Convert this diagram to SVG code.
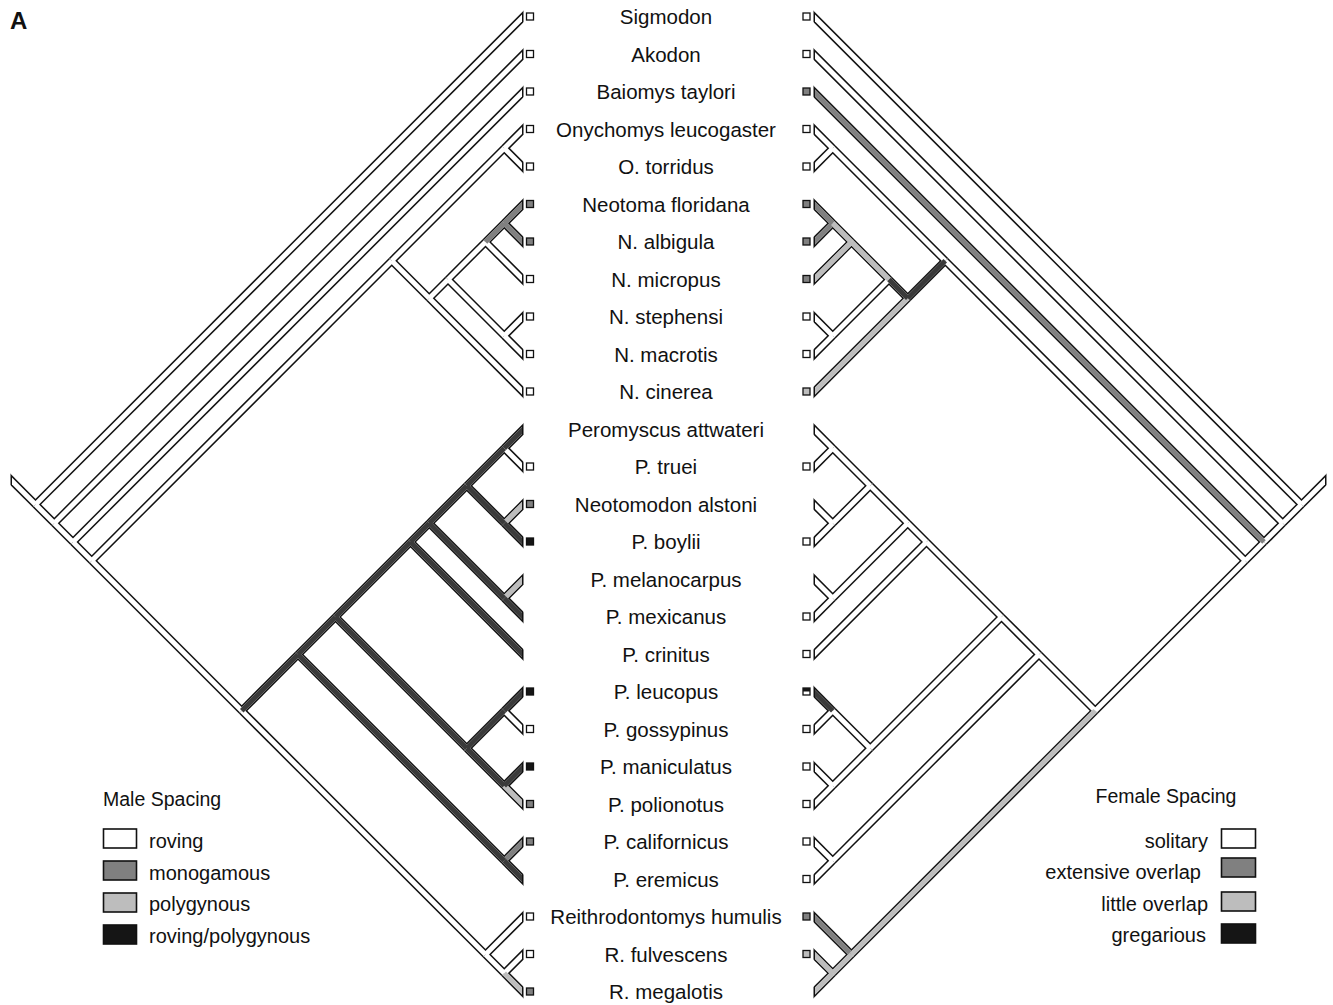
<svg xmlns="http://www.w3.org/2000/svg" xmlns:xlink="http://www.w3.org/1999/xlink" width="1333" height="1005" viewBox="0 0 1333 1005">
<style>
.lbl{font-family:"Liberation Sans",Arial,sans-serif;font-size:20.5px;text-anchor:middle;fill:#111}
.leg{font-family:"Liberation Sans",Arial,sans-serif;font-size:20px;fill:#111}
.hd{font-family:"Liberation Sans",Arial,sans-serif;font-size:19.5px;fill:#111}
.bx{stroke:#111;stroke-width:1.3}
.lb{stroke:#111;stroke-width:1.6}
.w{fill:#fff}.gm{fill:#808080}.gp{fill:#bdbdbd}.gk{fill:#151515}
.sm{stroke:#808080}.sp{stroke:#bdbdbd}.sk{stroke:#3a3a3a}
</style>
<defs>
<clipPath id="co"><rect x="10.5" y="0" width="513" height="1005"/></clipPath>
<clipPath id="ci"><rect x="12" y="0" width="510" height="1005"/></clipPath>
<g id="E">
<line x1="35.5" y1="504.5" x2="5" y2="474"/>
<line x1="35.5" y1="504.5" x2="531" y2="9"/>
<line x1="35.5" y1="504.5" x2="54.25" y2="523.25"/>
<line x1="54.25" y1="523.25" x2="531" y2="46.5"/>
<line x1="54.25" y1="523.25" x2="73" y2="542"/>
<line x1="73" y1="542" x2="531" y2="84"/>
<line x1="73" y1="542" x2="91.75" y2="560.75"/>
<line x1="91.75" y1="560.75" x2="391.75" y2="260.75"/>
<line x1="91.75" y1="560.75" x2="241.75" y2="710.75"/>
<line x1="391.75" y1="260.75" x2="504.25" y2="148.25"/>
<line x1="504.25" y1="148.25" x2="531" y2="121.5"/>
<line x1="504.25" y1="148.25" x2="531" y2="175"/>
<line x1="391.75" y1="260.75" x2="429.25" y2="298.25"/>
<line x1="429.25" y1="298.25" x2="448" y2="279.5"/>
<line x1="429.25" y1="298.25" x2="531" y2="400"/>
<line x1="448" y1="279.5" x2="485.5" y2="242"/>
<line x1="448" y1="279.5" x2="504.25" y2="335.75"/>
<line x1="485.5" y1="242" x2="504.25" y2="223.25"/>
<line x1="485.5" y1="242" x2="531" y2="287.5"/>
<line x1="504.25" y1="223.25" x2="531" y2="196.5"/>
<line x1="504.25" y1="223.25" x2="531" y2="250"/>
<line x1="504.25" y1="335.75" x2="531" y2="309"/>
<line x1="504.25" y1="335.75" x2="531" y2="362.5"/>
<line x1="241.75" y1="710.75" x2="298" y2="654.5"/>
<line x1="241.75" y1="710.75" x2="485.5" y2="954.5"/>
<line x1="298" y1="654.5" x2="335.5" y2="617"/>
<line x1="298" y1="654.5" x2="504.25" y2="860.75"/>
<line x1="335.5" y1="617" x2="410.5" y2="542"/>
<line x1="335.5" y1="617" x2="466.75" y2="748.25"/>
<line x1="410.5" y1="542" x2="429.25" y2="523.25"/>
<line x1="410.5" y1="542" x2="531" y2="662.5"/>
<line x1="429.25" y1="523.25" x2="466.75" y2="485.75"/>
<line x1="429.25" y1="523.25" x2="504.25" y2="598.25"/>
<line x1="466.75" y1="485.75" x2="504.25" y2="448.25"/>
<line x1="466.75" y1="485.75" x2="504.25" y2="523.25"/>
<line x1="504.25" y1="448.25" x2="531" y2="421.5"/>
<line x1="504.25" y1="448.25" x2="531" y2="475"/>
<line x1="504.25" y1="523.25" x2="531" y2="496.5"/>
<line x1="504.25" y1="523.25" x2="531" y2="550"/>
<line x1="504.25" y1="598.25" x2="531" y2="571.5"/>
<line x1="504.25" y1="598.25" x2="531" y2="625"/>
<line x1="466.75" y1="748.25" x2="504.25" y2="710.75"/>
<line x1="466.75" y1="748.25" x2="504.25" y2="785.75"/>
<line x1="504.25" y1="710.75" x2="531" y2="684"/>
<line x1="504.25" y1="710.75" x2="531" y2="737.5"/>
<line x1="504.25" y1="785.75" x2="531" y2="759"/>
<line x1="504.25" y1="785.75" x2="531" y2="812.5"/>
<line x1="504.25" y1="860.75" x2="531" y2="834"/>
<line x1="504.25" y1="860.75" x2="531" y2="887.5"/>
<line x1="485.5" y1="954.5" x2="531" y2="909"/>
<line x1="485.5" y1="954.5" x2="504.25" y2="973.25"/>
<line x1="504.25" y1="973.25" x2="531" y2="946.5"/>
<line x1="504.25" y1="973.25" x2="531" y2="1000"/>
</g>
</defs>
<rect width="1333" height="1005" fill="#fff"/>
<text x="10" y="29" font-family="Liberation Sans,Arial,sans-serif" font-size="24" font-weight="bold" fill="#111">A</text>
<g id="connectors" fill="none">
 <g id="male-tree">
  <g clip-path="url(#co)"><use xlink:href="#E" stroke="#111" stroke-width="8"/></g>
  <g clip-path="url(#ci)" stroke-width="5">
   <use xlink:href="#E" stroke="#fff"/>
   <line class="sm" x1="485.5" y1="242" x2="504.25" y2="223.25"/>
   <line class="sm" x1="504.25" y1="223.25" x2="531" y2="196.5"/>
   <line class="sm" x1="504.25" y1="223.25" x2="531" y2="250"/>
   <line class="sm" x1="504.25" y1="860.75" x2="531" y2="834"/>
   <line class="sp" x1="504.25" y1="523.25" x2="531" y2="496.5"/>
   <line class="sp" x1="504.25" y1="598.25" x2="531" y2="571.5"/>
   <line class="sp" x1="504.25" y1="785.75" x2="531" y2="812.5"/>
   <line class="sp" x1="504.25" y1="973.25" x2="531" y2="1000"/>
   <line class="sk" x1="241.75" y1="710.75" x2="298" y2="654.5"/>
   <line class="sk" x1="298" y1="654.5" x2="335.5" y2="617"/>
   <line class="sk" x1="335.5" y1="617" x2="410.5" y2="542"/>
   <line class="sk" x1="410.5" y1="542" x2="429.25" y2="523.25"/>
   <line class="sk" x1="429.25" y1="523.25" x2="466.75" y2="485.75"/>
   <line class="sk" x1="466.75" y1="485.75" x2="504.25" y2="448.25"/>
   <line class="sk" x1="504.25" y1="448.25" x2="531" y2="421.5"/>
   <line class="sk" x1="466.75" y1="485.75" x2="504.25" y2="523.25"/>
   <line class="sk" x1="504.25" y1="523.25" x2="531" y2="550"/>
   <line class="sk" x1="429.25" y1="523.25" x2="504.25" y2="598.25"/>
   <line class="sk" x1="504.25" y1="598.25" x2="531" y2="625"/>
   <line class="sk" x1="410.5" y1="542" x2="531" y2="662.5"/>
   <line class="sk" x1="335.5" y1="617" x2="466.75" y2="748.25"/>
   <line class="sk" x1="466.75" y1="748.25" x2="504.25" y2="710.75"/>
   <line class="sk" x1="504.25" y1="710.75" x2="531" y2="684"/>
   <line class="sk" x1="466.75" y1="748.25" x2="504.25" y2="785.75"/>
   <line class="sk" x1="504.25" y1="785.75" x2="531" y2="759"/>
   <line class="sk" x1="298" y1="654.5" x2="504.25" y2="860.75"/>
   <line class="sk" x1="504.25" y1="860.75" x2="531" y2="887.5"/>
  </g>
 </g>
 <g id="female-tree" transform="matrix(-1 0 0 1 1337 0)">
  <g clip-path="url(#co)"><use xlink:href="#E" stroke="#111" stroke-width="8"/></g>
  <g clip-path="url(#ci)" stroke-width="5">
   <use xlink:href="#E" stroke="#fff"/>
   <line class="sm" x1="73" y1="542" x2="531" y2="84"/>
   <line class="sm" x1="504.25" y1="223.25" x2="531" y2="196.5"/>
   <line class="sm" x1="504.25" y1="223.25" x2="531" y2="250"/>
   <line class="sm" x1="485.5" y1="954.5" x2="531" y2="909"/>
   <line class="sp" x1="485.5" y1="242" x2="504.25" y2="223.25"/>
   <line class="sp" x1="485.5" y1="242" x2="531" y2="287.5"/>
   <line class="sp" x1="448" y1="279.5" x2="485.5" y2="242"/>
   <line class="sp" x1="429.25" y1="298.25" x2="531" y2="400"/>
   <line class="sp" x1="241.75" y1="710.75" x2="485.5" y2="954.5"/>
   <line class="sp" x1="485.5" y1="954.5" x2="504.25" y2="973.25"/>
   <line class="sp" x1="504.25" y1="973.25" x2="531" y2="1000"/>
   <line class="sp" x1="504.25" y1="973.25" x2="531" y2="946.5"/>
   <line class="sk" x1="429.25" y1="298.25" x2="448" y2="279.5"/>
   <line class="sk" x1="391.75" y1="260.75" x2="429.25" y2="298.25"/>
   <line class="sk" x1="504.25" y1="710.75" x2="531" y2="684"/>
  </g>
 </g>
</g>
<g id="taxa">
 <g id="t0"><rect class="bx w" x="526.5" y="13" width="7" height="7"/><text class="lbl" x="666" y="24">Sigmodon</text><rect class="bx w" x="803" y="13" width="7" height="7"/></g>
 <g id="t1"><rect class="bx w" x="526.5" y="50.5" width="7" height="7"/><text class="lbl" x="666" y="61.5">Akodon</text><rect class="bx w" x="803" y="50.5" width="7" height="7"/></g>
 <g id="t2"><rect class="bx w" x="526.5" y="88" width="7" height="7"/><text class="lbl" x="666" y="99">Baiomys taylori</text><rect class="bx gm" x="803" y="88" width="7" height="7"/></g>
 <g id="t3"><rect class="bx w" x="526.5" y="125.5" width="7" height="7"/><text class="lbl" x="666" y="136.5">Onychomys leucogaster</text><rect class="bx w" x="803" y="125.5" width="7" height="7"/></g>
 <g id="t4"><rect class="bx w" x="526.5" y="163" width="7" height="7"/><text class="lbl" x="666" y="174">O. torridus</text><rect class="bx w" x="803" y="163" width="7" height="7"/></g>
 <g id="t5"><rect class="bx gm" x="526.5" y="200.5" width="7" height="7"/><text class="lbl" x="666" y="211.5">Neotoma floridana</text><rect class="bx gm" x="803" y="200.5" width="7" height="7"/></g>
 <g id="t6"><rect class="bx gm" x="526.5" y="238" width="7" height="7"/><text class="lbl" x="666" y="249">N. albigula</text><rect class="bx gm" x="803" y="238" width="7" height="7"/></g>
 <g id="t7"><rect class="bx w" x="526.5" y="275.5" width="7" height="7"/><text class="lbl" x="666" y="286.5">N. micropus</text><rect class="bx gm" x="803" y="275.5" width="7" height="7"/></g>
 <g id="t8"><rect class="bx w" x="526.5" y="313" width="7" height="7"/><text class="lbl" x="666" y="324">N. stephensi</text><rect class="bx w" x="803" y="313" width="7" height="7"/></g>
 <g id="t9"><rect class="bx w" x="526.5" y="350.5" width="7" height="7"/><text class="lbl" x="666" y="361.5">N. macrotis</text><rect class="bx w" x="803" y="350.5" width="7" height="7"/></g>
 <g id="t10"><rect class="bx w" x="526.5" y="388" width="7" height="7"/><text class="lbl" x="666" y="399">N. cinerea</text><rect class="bx gp" x="803" y="388" width="7" height="7"/></g>
 <g id="t11"><text class="lbl" x="666" y="436.5">Peromyscus attwateri</text></g>
 <g id="t12"><rect class="bx w" x="526.5" y="463" width="7" height="7"/><text class="lbl" x="666" y="474">P. truei</text><rect class="bx w" x="803" y="463" width="7" height="7"/></g>
 <g id="t13"><rect class="bx gm" x="526.5" y="500.5" width="7" height="7"/><text class="lbl" x="666" y="511.5">Neotomodon alstoni</text></g>
 <g id="t14"><rect class="bx gk" x="526.5" y="538" width="7" height="7"/><text class="lbl" x="666" y="549">P. boylii</text><rect class="bx w" x="803" y="538" width="7" height="7"/></g>
 <g id="t15"><text class="lbl" x="666" y="586.5">P. melanocarpus</text></g>
 <g id="t16"><text class="lbl" x="666" y="624">P. mexicanus</text><rect class="bx w" x="803" y="613" width="7" height="7"/></g>
 <g id="t17"><text class="lbl" x="666" y="661.5">P. crinitus</text><rect class="bx w" x="803" y="650.5" width="7" height="7"/></g>
 <g id="t18"><rect class="bx gk" x="526.5" y="688" width="7" height="7"/><text class="lbl" x="666" y="699">P. leucopus</text><rect class="bx w" x="803" y="688" width="7" height="7"/><rect class="gk" x="803" y="688" width="7" height="3.5"/></g>
 <g id="t19"><rect class="bx w" x="526.5" y="725.5" width="7" height="7"/><text class="lbl" x="666" y="736.5">P. gossypinus</text><rect class="bx w" x="803" y="725.5" width="7" height="7"/></g>
 <g id="t20"><rect class="bx gk" x="526.5" y="763" width="7" height="7"/><text class="lbl" x="666" y="774">P. maniculatus</text><rect class="bx w" x="803" y="763" width="7" height="7"/></g>
 <g id="t21"><rect class="bx gm" x="526.5" y="800.5" width="7" height="7"/><text class="lbl" x="666" y="811.5">P. polionotus</text><rect class="bx w" x="803" y="800.5" width="7" height="7"/></g>
 <g id="t22"><rect class="bx gm" x="526.5" y="838" width="7" height="7"/><text class="lbl" x="666" y="849">P. californicus</text><rect class="bx w" x="803" y="838" width="7" height="7"/></g>
 <g id="t23"><text class="lbl" x="666" y="886.5">P. eremicus</text><rect class="bx w" x="803" y="875.5" width="7" height="7"/></g>
 <g id="t24"><rect class="bx w" x="526.5" y="913" width="7" height="7"/><text class="lbl" x="666" y="924">Reithrodontomys humulis</text><rect class="bx gm" x="803" y="913" width="7" height="7"/></g>
 <g id="t25"><rect class="bx w" x="526.5" y="950.5" width="7" height="7"/><text class="lbl" x="666" y="961.5">R. fulvescens</text><rect class="bx gp" x="803" y="950.5" width="7" height="7"/></g>
 <g id="t26"><rect class="bx gm" x="526.5" y="988" width="7" height="7"/><text class="lbl" x="666" y="999">R. megalotis</text></g>
</g>
<g id="legend-male">
 <text class="hd" x="103" y="806">Male Spacing</text>
 <rect class="lb w" x="103.5" y="829" width="33" height="19"/><text class="leg" x="149" y="848">roving</text>
 <rect class="lb gm" x="103.5" y="861" width="33" height="19"/><text class="leg" x="149" y="880">monogamous</text>
 <rect class="lb gp" x="103.5" y="893" width="33" height="19"/><text class="leg" x="149" y="911">polygynous</text>
 <rect class="lb gk" x="103.5" y="925" width="33" height="19"/><text class="leg" x="149" y="943">roving/polygynous</text>
</g>
<g id="legend-female">
 <text class="hd" x="1166" y="803" text-anchor="middle">Female Spacing</text>
 <text class="leg" x="1208" y="848" text-anchor="end">solitary</text><rect class="lb w" x="1221.5" y="829" width="34" height="19"/>
 <text class="leg" x="1201" y="879" text-anchor="end">extensive overlap</text><rect class="lb gm" x="1221.5" y="858" width="34" height="19"/>
 <text class="leg" x="1208" y="911" text-anchor="end">little overlap</text><rect class="lb gp" x="1221.5" y="892" width="34" height="19"/>
 <text class="leg" x="1206" y="942" text-anchor="end">gregarious</text><rect class="lb gk" x="1221.5" y="924" width="34" height="19"/>
</g>
</svg>
